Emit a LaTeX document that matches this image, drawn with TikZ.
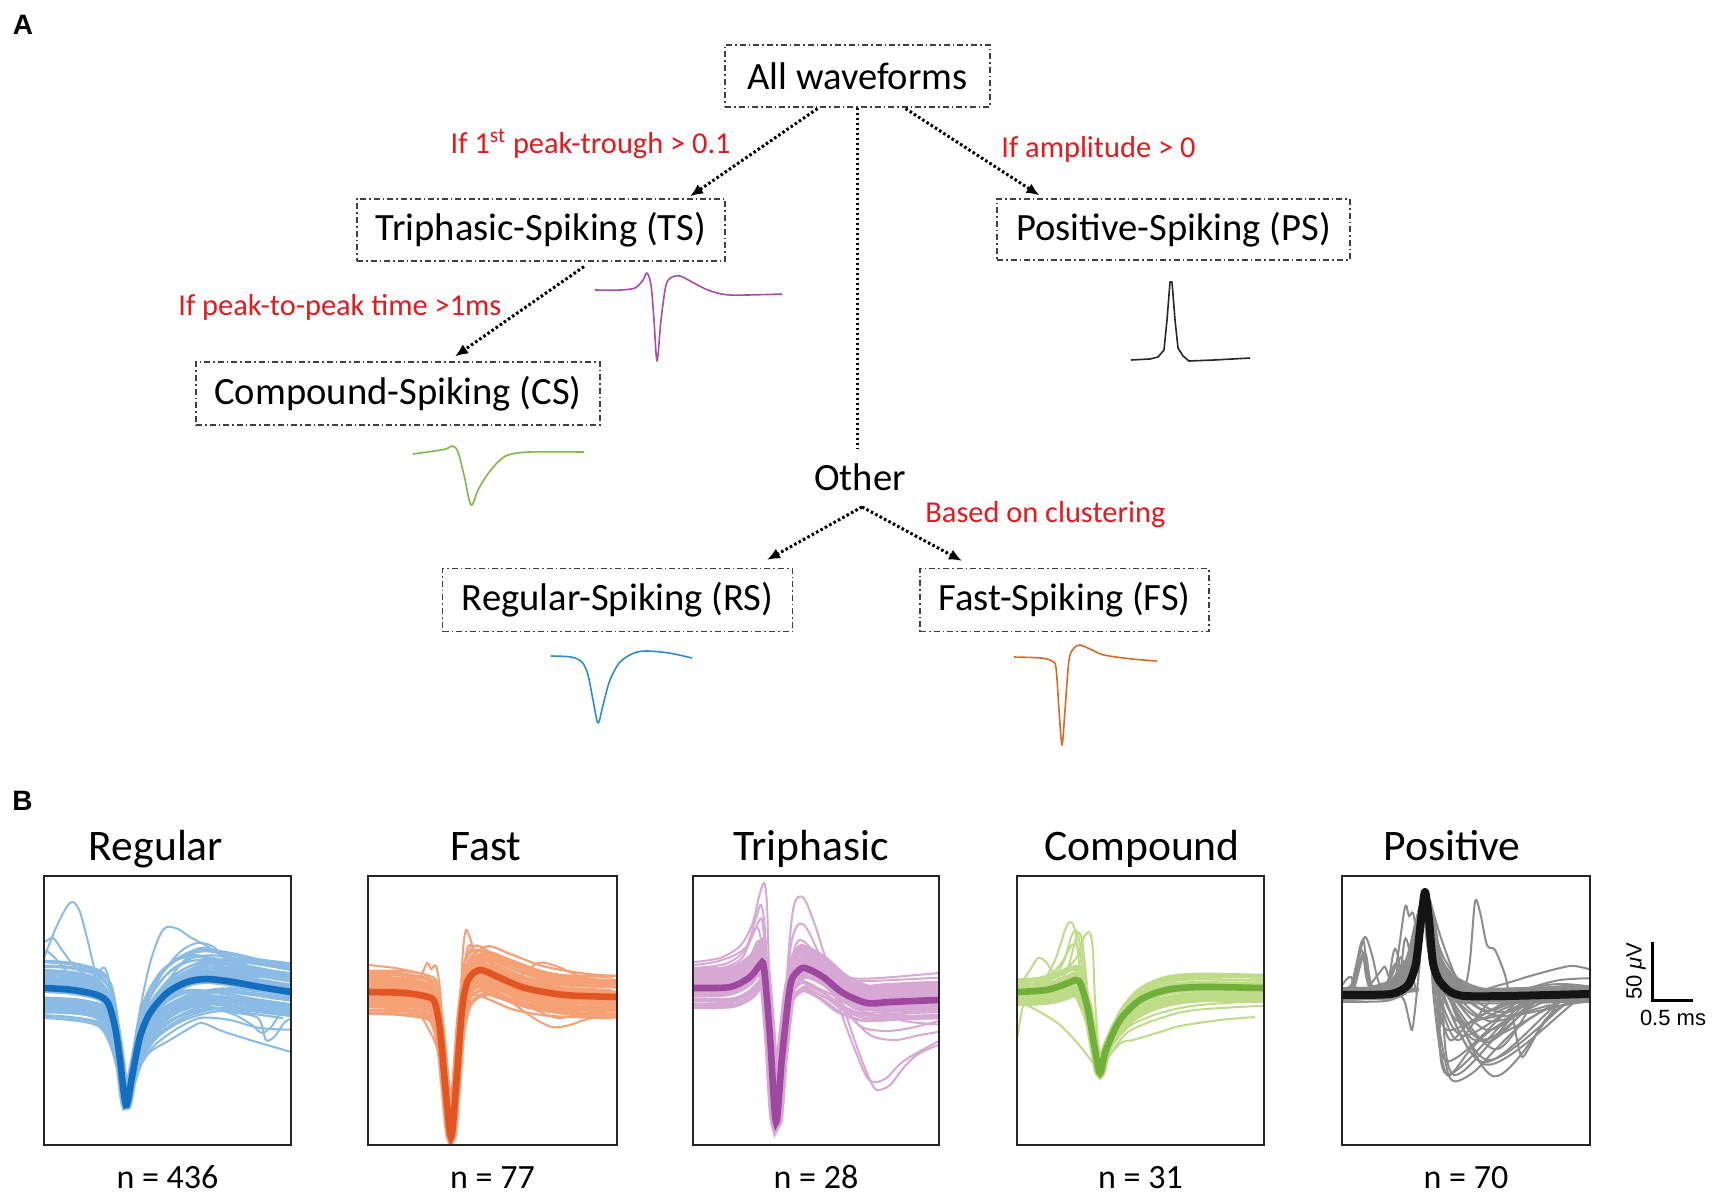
\documentclass[tikz,border=0pt]{standalone}
\usepackage{fontspec}
\setmainfont{Carlito}
\newfontfamily\arialf{Liberation Sans}
\usetikzlibrary{arrows.meta,calc}
\definecolor{redlab}{HTML}{E5191E}
\definecolor{dblue}{HTML}{146EBE}
\definecolor{lblue}{HTML}{8ABBE5}
\definecolor{dorange}{HTML}{E15523}
\definecolor{lorange}{HTML}{F6A076}
\definecolor{dpurple}{HTML}{9E48A0}
\definecolor{lpurple}{HTML}{D8A8D5}
\definecolor{dgreen}{HTML}{70AF3A}
\definecolor{lgreen}{HTML}{BEDC87}
\definecolor{lgray}{HTML}{8C8C8C}
\definecolor{spurple}{HTML}{A84CB0}
\definecolor{sgreen}{HTML}{7DB84A}
\definecolor{sblue}{HTML}{2E8BD0}
\definecolor{sorange}{HTML}{DA6A2A}
\newcommand\fntbox{\fontsize{19.3}{23}\selectfont}
\newcommand\fntlab{\fontsize{15.2}{18}\selectfont}
\newcommand\fnttit{\fontsize{21.8}{26}\selectfont}
\newcommand\fntn{\fontsize{17}{20}\selectfont}
\newcommand\fntbar{\arialf\fontsize{11}{13}\selectfont}
\newcommand\fntpanel{\arialf\bfseries\fontsize{14}{16}\selectfont}
\newcommand\olcurve[2]{\draw[#1] plot[smooth,tension=0.5] coordinates {#2};}
\newcommand\mReg[1]{\draw[#1] plot[smooth,tension=0.5] coordinates {(24,988) (44,988) (73,990) (97,995) (108,1003) (115,1027) (120,1060) (126,1105) (132,1077) (140,1037) (150,1013) (167,993) (187,982) (207,979) (233,982) (260,987) (291,992) (311,995)};}
\newcommand\mFast[1]{\draw[#1] plot[smooth,tension=0.5] coordinates {(348,992) (369,992) (405,993) (428,997) (435,1003) (440,1030) (445,1083) (451,1137) (456,1087) (462,1010) (468,980) (480,970) (498,977) (525,988) (565,995) (617,997) (637,998)};}
\newcommand\mTri[1]{\draw[#1] plot[smooth,tension=0.5] coordinates {(674,988) (694,988) (730,987) (750,977) (760,965) (764,968) (770,1037) (776,1122) (782,1057) (790,987) (797,972) (805,968) (823,977) (843,993) (867,1003) (890,1002) (939,1000) (959,1000)};}
\newcommand\mComp[1]{\draw[#1] plot[smooth,tension=0.5] coordinates {(997,992) (1017,992) (1046,990) (1063,985) (1076,980) (1081,985) (1088,1010) (1095,1050) (1100,1073) (1106,1050) (1120,1020) (1140,1000) (1166,990) (1200,987) (1264,988) (1284,988)};}
\newcommand\mPos[1]{\draw[#1] plot[smooth,tension=0.4] coordinates {(1322,995) (1342,995) (1391,994) (1408,985) (1416,963) (1421,920) (1425,892) (1429,920) (1433,963) (1441,983) (1465,996) (1590,994) (1610,994)};}
\begin{document}
\begin{tikzpicture}[x=0.5pt,y=-0.5pt,
  box/.style={draw=black!75, line width=0.6pt, dash pattern=on 3pt off 1.5pt on 0.8pt off 1.5pt, inner sep=0pt, font=\fntbox},
  conn/.style={line width=1.5pt, dash pattern=on 1.3pt off 1.2pt},
  arr/.style={conn, -{Latex[length=6.5pt,width=5.5pt]}},
  lab/.style={text=redlab, font=\fntlab, inner sep=0pt},
  tit/.style={font=\fnttit, inner sep=0pt, anchor=base},
  ncount/.style={font=\fntn, inner sep=0pt, anchor=base},
  pbox/.style={draw=black!85, line width=0.75pt},
  small/.style={line width=0.8pt, line join=round},
  thin/.style={line width=1pt}]
\fill[white] (0,0) rectangle (1713,1200);
\useasboundingbox (0,0) rectangle (1713,1200);

% ---------- Panel A ----------
\node[font=\fntpanel, inner sep=0pt] (pA) at (23,25) {A};
\node[box, minimum width=132.5pt, minimum height=31pt] (all) at (857.5,76) {All waveforms};
\node[box, minimum width=184pt, minimum height=31pt] (ts) at (541,230) {Triphasic-Spiking (TS)};
\node[box, minimum width=176.5pt, minimum height=30.5pt] (ps) at (1173.5,229.5) {Positive-Spiking (PS)};
\node[box, minimum width=202pt, minimum height=31.5pt] (cs) at (398,393.5) {Compound-Spiking (CS)};
\node[box, minimum width=175pt, minimum height=31.5pt] (rs) at (617.5,600) {Regular-Spiking (RS)};
\node[box, minimum width=144.5pt, minimum height=31.5pt] (fs) at (1064.5,600) {Fast-Spiking (FS)};
\node[font=\fntbox, inner sep=2pt] (other) at (860,477) {Other};

\node[lab, anchor=base east] (l1) at (731,153) {If 1\textsuperscript{st} peak-trough > 0.1};
\node[lab, anchor=base west] (l2) at (1001,157) {If amplitude > 0};
\node[lab, anchor=base west] (l3) at (178,315) {If peak-to-peak time >1ms};
\node[lab, anchor=base west] (l4) at (925,522) {Based on clustering};

\draw[arr] ($(all.south)+(-40,1)$) -- ($(ts.north)+(149,-2)$);
\draw[arr] ($(all.south)+(48,1)$) -- ($(ps.north)+(-134,-3)$);
\draw[conn] (all.south) -- ($(all.south |- other.north)+(0,-10)$);
\draw[arr] ($(ts.south)+(43,5)$) -- ($(cs.north)+(57,-5)$);
\draw[arr] ($(other.south)+(2,12)$) -- ($(rs.north)+(149.5,-8)$);
\draw[arr] ($(other.south)+(2,12)$) -- ($(fs.north)+(-102.5,-7)$);

% small waveforms
\draw[small, spurple] plot[smooth,tension=0.5] coordinates {(595,290) (620,290) (635,288) (643,280) (647,273) (651,285) (654,320) (657,361) (661,320) (666,285) (672,277) (680,276) (692,282) (708,290) (730,295) (782,294)};
\draw[small, black!85] (1131,360) -- (1150,359) -- (1158,357) -- (1164,350) -- (1167,320) -- (1170,282) -- (1172,282) -- (1175,320) -- (1178,348) -- (1183,356) -- (1189,361) -- (1214,360) -- (1250,358);
\draw[small, sgreen] plot[smooth,tension=0.5] coordinates {(413,454) (434,451) (446,449) (453,446) (458,452) (464,475) (471,505) (478,490) (487,475) (498,462) (508,455) (529,452) (584,452)};
\draw[small, sblue] plot[smooth,tension=0.5] coordinates {(551,656) (571,657) (582,662) (588,675) (593,700) (598,723) (603,705) (610,680) (620,662) (634,653) (647,651) (669,653) (692,658)};
\draw[small, sorange] plot[smooth,tension=0.5] coordinates {(1014,657) (1041,658) (1052,661) (1056,668) (1059,710) (1062,745) (1065,710) (1069,660) (1074,648) (1080,645) (1090,649) (1104,655) (1132,659) (1157,661)};

% ---------- Panel B ----------
\node[font=\fntpanel, inner sep=0pt] (pB) at (22.5,801) {B};
\node[tit] (t1) at (156,860) {Regular};
\node[tit] (t2) at (486,860) {Fast};
\node[tit] (t3) at (811,860) {Triphasic};
\node[tit] (t4) at (1142,860) {Compound};
\node[tit] (t5) at (1452,860) {Positive};
\node[ncount] (n1) at (167.5,1188) {n = 436};
\node[ncount] (n2) at (492.5,1188) {n = 77};
\node[ncount] (n3) at (816,1188) {n = 28};
\node[ncount] (n4) at (1140.5,1188) {n = 31};
\node[ncount] (n5) at (1466,1188) {n = 70};

\pgfmathsetseed{11}
% Regular
\begin{scope}
\clip (44,876) rectangle (291,1145);
\mReg{lblue, line width=5pt}
\foreach \i in {1,...,55}{
  \pgfmathsetmacro\sy{0.75+0.5*rnd}
  \pgfmathsetmacro\sx{0.8+0.7*rnd}
  \begin{scope}[shift={(126,1105)}, xscale=\sx, yscale=\sy, shift={(-126,-1105)}]
    \mReg{lblue, line width=1.1pt}
  \end{scope}}
\olcurve{lblue, thin}{(44,958)(55,930)(66,908)(73,902)(80,912)(88,942)(96,975)(104,1000)(112,1035)(120,1070)(126,1102)}
\olcurve{lblue, thin}{(30,945)(44,942)(53,938)(62,950)(75,967)(90,978)(102,992)}
\olcurve{lblue, thin}{(30,955)(44,950)(55,958)(70,975)(85,985)}
\olcurve{lblue, thin}{(44,985)(70,985)(90,980)(100,970)(105,968)(110,985)(116,1030)}
\olcurve{lblue, thin}{(126,1102)(132,1060)(140,1010)(150,963)(160,935)(167,927)(178,929)(190,937)(205,945)(222,956)(240,968)(258,978)}
\olcurve{lblue, thin}{(126,1102)(134,1060)(145,1012)(160,977)(180,952)(197,943)(212,946)(226,958)(242,972)}
\olcurve{lblue, thin}{(126,1102)(135,1065)(148,1020)(165,985)(185,960)(200,950)(215,952)(230,962)}
\olcurve{lblue, thin}{(126,1102)(135,1070)(150,1052)(170,1040)(190,1028)(202,1023)(222,1031)(250,1040)(291,1052)(305,1057)}
\olcurve{lblue, thin}{(126,1102)(136,1075)(152,1048)(175,1030)(200,1018)(230,1020)(260,1028)(300,1030)}
\olcurve{lblue, thin}{(150,1022)(180,1008)(210,1008)(235,1015)(252,1025)(262,1033)(272,1026)(282,1012)(300,1005)}
\olcurve{lblue, thin}{(160,1015)(195,1005)(230,1012)(258,1018)(266,1040)(275,1036)(285,1022)(300,1015)}
\olcurve{lblue, thin}{(175,960)(200,948)(222,953)(240,962)(260,972)}
\mReg{dblue, line width=3.3pt}
\end{scope}
\draw[pbox] (44,876) rectangle (291,1145);

% Fast
\begin{scope}
\clip (368,876) rectangle (617,1145);
\mFast{lorange, line width=5pt}
\foreach \i in {1,...,50}{
  \pgfmathsetmacro\sy{0.85+0.3*rnd}
  \pgfmathsetmacro\sx{0.85+0.45*rnd}
  \begin{scope}[shift={(451,1137)}, xscale=\sx, yscale=\sy, shift={(-451,-1137)}]
    \mFast{lorange, line width=1.1pt}
  \end{scope}}
\olcurve{lorange, thin}{(451,1135)(456,1090)(460,1010)(463,950)(466,930)(470,938)(477,958)(490,970)(510,980)}
\olcurve{lorange, thin}{(451,1135)(457,1080)(462,1000)(466,955)(470,945)(476,955)(488,965)(505,975)}
\olcurve{lorange, thin}{(369,972)(395,974)(418,978)(427,963)(431,969)(436,966)(440,990)(445,1060)}
\olcurve{lorange, thin}{(369,965)(395,968)(415,972)(425,975)(433,985)(440,1020)}
\olcurve{lorange, thin}{(470,985)(495,988)(518,978)(538,963)(556,966)(577,975)(600,980)(630,982)}
\olcurve{lorange, thin}{(480,985)(508,1000)(532,1017)(552,1027)(570,1025)(592,1018)(630,1018)}
\olcurve{lorange, thin}{(369,1005)(400,1008)(418,1013)(428,1028)(436,1045)(442,1070)}
\olcurve{lorange, thin}{(490,980)(520,995)(545,1006)(575,1012)(630,1015)}
\olcurve{lorange, thin}{(485,982)(515,998)(540,1012)(560,1018)(590,1012)(630,1010)}
\olcurve{lorange, thin}{(369,980)(400,982)(425,985)(433,990)}
\mFast{dorange, line width=3.3pt}
\end{scope}
\draw[pbox] (368,876) rectangle (617,1145);

% Triphasic
\begin{scope}
\clip (693,876) rectangle (939,1145);
\mTri{lpurple, line width=6pt}
\foreach \i in {1,...,50}{
  \pgfmathsetmacro\sy{0.85+0.3*rnd}
  \pgfmathsetmacro\sx{0.9+0.3*rnd}
  \begin{scope}[shift={(776,1122)}, xscale=\sx, yscale=\sy, shift={(-776,-1122)}]
    \mTri{lpurple, line width=1.1pt}
  \end{scope}}
\olcurve{lpurple, thin}{(694,962)(720,958)(740,946)(752,925)(759,897)(764,883)(767,905)(770,1000)(776,1115)}
\olcurve{lpurple, thin}{(694,968)(725,964)(745,950)(756,918)(761,905)(765,930)(771,1030)}
\olcurve{lpurple, thin}{(694,975)(730,972)(748,960)(757,942)(762,946)(767,1000)}
\olcurve{lpurple, thin}{(694,970)(722,968)(742,958)(752,935)(758,928)(763,950)}
\olcurve{lpurple, thin}{(694,965)(715,962)(735,955)(748,945)(757,925)(762,920)(766,960)}
\olcurve{lpurple, thin}{(782,1057)(788,960)(793,910)(798,897)(805,900)(815,925)(823,950)(833,978)(845,1012)(858,1050)(870,1080)(877,1090)(890,1085)(905,1066)(920,1053)(950,1040)}
\olcurve{lpurple, thin}{(784,1040)(790,952)(797,926)(805,926)(815,945)(828,976)(840,1010)(855,1050)(869,1080)(885,1079)(905,1060)(950,1035)}
\olcurve{lpurple, thin}{(786,1030)(793,956)(800,940)(812,950)(825,975)(840,1002)(860,1026)(885,1031)(910,1028)(950,1018)}
\olcurve{lpurple, thin}{(788,1010)(795,962)(805,950)(820,965)(835,986)(855,1006)(880,1016)(910,1013)(950,1006)}
\olcurve{lpurple, thin}{(787,1020)(794,958)(802,945)(816,958)(830,982)(848,1012)(870,1035)(895,1040)(920,1035)(950,1030)}
\olcurve{lpurple, thin}{(800,962)(815,956)(830,970)(850,988)(880,992)(950,988)}
\olcurve{lpurple, thin}{(805,965)(825,970)(845,985)(870,1000)(900,1020)(950,1025)}
\olcurve{lpurple, thin}{(820,975)(840,980)(870,981)(950,977)}
\olcurve{lpurple, thin}{(825,972)(850,978)(880,978)(950,972)}
\mTri{dpurple, line width=3.3pt}
\end{scope}
\draw[pbox] (693,876) rectangle (939,1145);

% Compound
\begin{scope}
\clip (1017,876) rectangle (1264,1145);
\mComp{lgreen, line width=5pt}
\foreach \i in {1,...,45}{
  \pgfmathsetmacro\sy{0.84+0.32*rnd}
  \pgfmathsetmacro\sx{0.88+0.35*rnd}
  \begin{scope}[shift={(1100,1073)}, xscale=\sx, yscale=\sy, shift={(-1100,-1073)}]
    \mComp{lgreen, line width=1.1pt}
  \end{scope}}
\olcurve{lgreen, thin}{(1017,990)(1040,985)(1055,960)(1065,930)(1070,922)(1075,930)(1080,970)(1088,1022)(1100,1072)}
\olcurve{lgreen, thin}{(1017,985)(1050,980)(1075,960)(1084,937)(1090,933)(1093,952)(1095,1000)(1100,1070)}
\olcurve{lgreen, thin}{(1017,988)(1045,984)(1062,965)(1072,935)(1077,932)(1082,955)(1090,1010)}
\olcurve{lgreen, thin}{(1017,990)(1030,970)(1038,958)(1046,962)(1055,975)(1070,985)}
\olcurve{lgreen, thin}{(1017,1040)(1022,1010)(1028,992)(1040,986)}
\olcurve{lgreen, thin}{(1017,1000)(1040,1012)(1060,1025)(1080,1046)(1095,1066)(1100,1073)}
\olcurve{lgreen, thin}{(1100,1073)(1110,1055)(1122,1042)(1133,1040)(1160,1032)(1180,1026)(1220,1020)(1255,1017)}
\olcurve{lgreen, thin}{(1100,1073)(1112,1046)(1130,1026)(1160,1013)(1200,1005)(1280,1000)}
\olcurve{lgreen, thin}{(1100,1073)(1115,1040)(1135,1019)(1165,1006)(1210,999)(1280,996)}
\olcurve{lgreen, thin}{(1100,1073)(1113,1050)(1128,1032)(1155,1020)(1195,1010)(1280,1005)}
\olcurve{lgreen, thin}{(1017,995)(1050,990)(1067,970)(1077,935)(1082,940)(1087,985)}
\olcurve{lgreen, thin}{(1040,985)(1060,965)(1072,945)(1079,950)(1085,990)}
\mComp{dgreen, line width=3.3pt}
\end{scope}
\draw[pbox] (1017,876) rectangle (1264,1145);

% Positive
\begin{scope}
\clip (1342,876) rectangle (1590,1145);
\foreach \i in {1,...,45}{
  \pgfmathsetmacro\sy{0.93+0.14*rnd}
  \pgfmathsetmacro\sx{0.8+1.4*rnd}
  \begin{scope}[shift={(1425,892)}, xscale=\sx, yscale=\sy, shift={(-1425,-892)}]
    \mPos{lgray, line width=1pt}
  \end{scope}}
\foreach \i in {1,...,22}{
  \pgfmathsetmacro\ta{1431+10*rnd}
  \pgfmathsetmacro\tx{1446+55*rnd}
  \pgfmathsetmacro\ty{1000+80*rnd}
  \pgfmathsetmacro\rx{\tx+40+60*rnd}
  \pgfmathsetmacro\ry{988+15*rnd}
  \draw[lgray, line width=1pt] plot[smooth,tension=0.5] coordinates {(1425,894) (\ta,965) (\tx,\ty) (\rx,\ry) (1600,\ry)};}
\foreach \i in {1,...,8}{
  \pgfmathsetmacro\bx{1352+55*rnd}
  \pgfmathsetmacro\by{925+55*rnd}
  \draw[lgray, line width=1pt] plot[smooth,tension=0.5] coordinates {(1342,993) (\bx-12,991) (\bx,\by) (\bx+10,990) (1418,988)};}
\olcurve{lgray, thin}{(1342,990)(1352,984)(1358,960)(1365,937)(1372,955)(1380,985)(1395,991)}
\olcurve{lgray, thin}{(1335,995)(1346,980)(1351,977)(1356,988)(1366,993)}
\olcurve{lgray, thin}{(1370,985)(1380,972)(1385,967)(1390,978)(1397,960)(1405,907)(1409,916)(1413,913)(1418,935)(1422,905)}
\olcurve{lgray, thin}{(1395,990)(1404,1000)(1409,1020)(1412,1030)(1415,1010)(1420,960)}
\olcurve{lgray, thin}{(1430,900)(1440,935)(1455,975)(1465,985)(1470,960)(1475,902)(1480,912)(1487,945)(1495,950)(1505,975)(1510,1000)(1517,1040)(1522,1057)(1530,1046)(1545,1020)(1565,1005)(1600,998)}
\olcurve{lgray, thin}{(1427,900)(1432,960)(1438,1020)(1445,1060)(1450,1078)(1458,1081)(1475,1071)(1495,1050)(1520,1026)(1550,1008)(1600,1000)}
\olcurve{lgray, thin}{(1428,905)(1433,990)(1440,1050)(1447,1075)(1455,1070)(1470,1050)(1490,1031)(1515,1016)(1550,1005)}
\olcurve{lgray, thin}{(1430,920)(1445,960)(1470,990)(1500,985)(1530,976)(1560,968)(1575,966)(1600,972)}
\olcurve{lgray, thin}{(1432,940)(1450,985)(1480,995)(1520,990)(1560,980)(1600,978)}
\olcurve{lgray, thin}{(1430,930)(1438,1000)(1450,1040)(1470,1022)(1500,1006)(1540,992)(1600,988)}
\mPos{black!92, line width=4pt, line join=round}
\end{scope}
\draw[pbox] (1342,876) rectangle (1590,1145);

% scale bar
\draw[line width=1.5pt] (1652,942) -- (1652,1000) -- (1693,1000);
\node[font=\fntbar, rotate=90, inner sep=0pt] (sv) at (1636,971) {50 \textit{μ}V};
\node[font=\fntbar, inner sep=0pt] (sh) at (1673,1018) {0.5 ms};
\end{tikzpicture}
\end{document}
